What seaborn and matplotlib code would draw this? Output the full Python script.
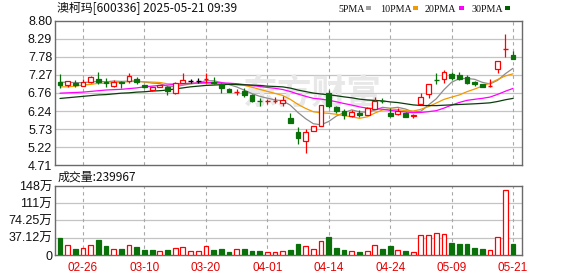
import numpy as np
import pandas as pd
import matplotlib
matplotlib.use("Agg")
import matplotlib.pyplot as plt
from matplotlib.patches import Rectangle
import seaborn as sns

# ---------------- data ----------------
dates = ["02-21", "02-24", "02-25", "02-26", "02-27", "02-28",
         "03-03", "03-04", "03-05", "03-06", "03-07", "03-10", "03-11", "03-12", "03-13", "03-14",
         "03-17", "03-18", "03-19", "03-20", "03-21", "03-24", "03-25", "03-26", "03-27", "03-28", "03-31",
         "04-01", "04-02", "04-03", "04-07", "04-08", "04-09", "04-10", "04-11", "04-14", "04-15", "04-16",
         "04-17", "04-18", "04-21", "04-22", "04-23", "04-24", "04-25", "04-28", "04-29", "04-30",
         "05-06", "05-07", "05-08", "05-09", "05-12", "05-13", "05-14", "05-15", "05-16", "05-19", "05-20", "05-21"]

opens = [7.06, 6.97, 7.03, 6.96, 7.08, 7.15, 7.08, 6.96, 7.06, 7.10,
         7.15, 6.97, 6.84, 6.93, 6.93, 6.76, 7.03, 7.10, 7.11, 7.14,
         7.08, 7.01, 6.87, 6.77, 6.81, 6.69, 6.52, 6.51, 6.53, 6.46,
         6.05, 5.64, 5.40, 5.67, 5.82, 6.75, 6.35, 6.24, 6.10, 6.20,
         6.14, 6.29, 6.54, 6.18, 6.16, 6.18, 6.10, 6.43, 6.72, 7.13,
         7.14, 7.29, 7.27, 7.20, 7.06, 7.00, 6.95, 7.43, 7.99, 7.83]
highs = [7.29, 7.10, 7.12, 7.14, 7.24, 7.34, 7.18, 7.12, 7.10, 7.31,
         7.20, 6.99, 6.93, 6.98, 6.95, 7.07, 7.31, 7.15, 7.17, 7.31,
         7.20, 7.03, 6.89, 6.87, 6.89, 6.73, 6.60, 6.59, 6.65, 6.67,
         6.20, 5.80, 5.72, 5.83, 6.41, 6.84, 6.39, 6.29, 6.27, 6.27,
         6.37, 6.63, 6.62, 6.32, 6.32, 6.22, 6.16, 6.75, 7.00, 7.31,
         7.41, 7.35, 7.35, 7.27, 7.10, 7.02, 7.14, 7.66, 8.43, 7.95]
lows = [6.90, 6.92, 6.93, 6.95, 7.03, 7.00, 6.93, 6.93, 6.89, 7.03,
        7.00, 6.90, 6.80, 6.93, 6.70, 6.74, 7.03, 7.03, 7.03, 7.05,
        7.02, 6.76, 6.78, 6.71, 6.63, 6.51, 6.39, 6.44, 6.46, 6.39,
        5.91, 5.31, 5.06, 5.67, 5.82, 6.32, 6.19, 6.03, 6.07, 6.08,
        6.13, 6.29, 6.46, 6.08, 6.13, 6.07, 6.04, 6.41, 6.60, 7.00,
        7.05, 7.12, 7.12, 7.01, 6.96, 6.93, 6.93, 7.33, 7.78, 7.71]
closes = [6.98, 7.10, 6.98, 7.08, 7.20, 7.06, 7.05, 7.08, 7.03, 7.24,
          7.06, 6.93, 6.92, 6.97, 6.82, 7.05, 7.12, 7.10, 7.11, 7.15,
          7.03, 6.89, 6.79, 6.78, 6.69, 6.54, 6.51, 6.52, 6.54, 6.56,
          5.91, 5.47, 5.64, 5.83, 6.41, 6.38, 6.24, 6.13, 6.22, 6.13,
          6.32, 6.54, 6.53, 6.10, 6.25, 6.08, 6.12, 6.63, 7.00, 7.12,
          7.36, 7.19, 7.14, 7.03, 7.00, 6.93, 6.96, 7.66, 8.00, 7.73]

ma5 = [7.06, 7.06, 7.05, 7.05, 7.068, 7.084, 7.074, 7.094, 7.084, 7.092,
       7.092, 7.068, 7.036, 7.024, 6.940, 6.938, 6.976, 7.012, 7.040, 7.106,
       7.102, 7.056, 6.994, 6.928, 6.836, 6.738, 6.662, 6.608, 6.560, 6.534,
       6.408, 6.200, 6.024, 5.882, 5.852, 5.946, 6.100, 6.198, 6.276, 6.220,
       6.208, 6.268, 6.348, 6.324, 6.348, 6.300, 6.216, 6.236, 6.416, 6.590,
       6.846, 7.060, 7.162, 7.168, 7.144, 7.058, 7.012, 7.116, 7.302, 7.456]
ma10 = [6.93, 6.93, 6.95, 6.98, 7.00, 7.03, 7.03, 7.05, 7.06, 7.080,
        7.088, 7.071, 7.065, 7.054, 7.016, 7.015, 7.022, 7.024, 7.032, 7.023,
        7.020, 7.016, 7.003, 6.984, 6.971, 6.920, 6.859, 6.801, 6.744, 6.685,
        6.573, 6.431, 6.316, 6.221, 6.193, 6.177, 6.150, 6.111, 6.079, 6.036,
        6.077, 6.184, 6.273, 6.300, 6.284, 6.254, 6.242, 6.292, 6.370, 6.469,
        6.573, 6.638, 6.699, 6.792, 6.867, 6.952, 7.036, 7.139, 7.239, 7.300]
ma20 = [6.75, 6.76, 6.77, 6.78, 6.80, 6.82, 6.84, 6.85, 6.86, 6.88,
        6.90, 6.93, 6.95, 6.97, 6.98, 7.00, 7.02, 7.03, 7.04, 7.052,
        7.054, 7.044, 7.034, 7.019, 6.994, 6.968, 6.941, 6.913, 6.888, 6.854,
        6.797, 6.724, 6.660, 6.603, 6.582, 6.549, 6.505, 6.456, 6.412, 6.361,
        6.325, 6.308, 6.295, 6.261, 6.239, 6.216, 6.196, 6.202, 6.225, 6.253,
        6.325, 6.411, 6.486, 6.546, 6.576, 6.603, 6.639, 6.716, 6.805, 6.885]
ma30 = [6.60, 6.62, 6.64, 6.66, 6.68, 6.70, 6.71, 6.73, 6.75, 6.76,
        6.78, 6.79, 6.81, 6.82, 6.84, 6.87, 6.90, 6.93, 6.95, 6.97,
        6.98, 6.99, 7.00, 7.00, 6.99, 6.98, 6.97, 6.95, 6.94, 6.929,
        6.894, 6.839, 6.795, 6.753, 6.727, 6.704, 6.677, 6.645, 6.618, 6.581,
        6.557, 6.544, 6.531, 6.502, 6.483, 6.450, 6.417, 6.401, 6.398, 6.397,
        6.408, 6.418, 6.429, 6.438, 6.448, 6.461, 6.476, 6.514, 6.563, 6.602]

volume_wan = [37.0, 21.8, 13.1, 15.9, 21.8, 32.6, 19.6, 13.1, 13.1, 21.8,
              17.4, 10.9, 10.9, 8.7, 10.9, 15.9, 17.4, 8.7, 8.7, 19.6,
              10.9, 13.1, 6.5, 13.1, 13.1, 8.7, 8.7, 6.5, 6.5, 8.7,
              10.9, 23.9, 19.6, 12.4, 30.5, 39.2, 14.6, 10.9, 8.7, 6.5,
              8.7, 21.8, 13.1, 19.6, 10.9, 8.7, 6.5, 43.5, 43.5, 47.2,
              45.7, 26.8, 23.9, 23.9, 15.2, 13.1, 10.9, 38.5, 138.6, 24.0]
volume_dir = list("grgrrggrgr" "gggrgrrrrr" "gggrgggrrr" "ggrrrgggrg" "rrggrgrrrr" "rgggggrrrg")

price_ticks = [4.71, 5.22, 5.73, 6.24, 6.76, 7.27, 7.78, 8.29, 8.80]
price_tick_labels = ["4.71", "5.22", "5.73", "6.24", "6.76", "7.27", "7.78", "8.29", "8.80"]
vol_ticks = [0, 37.12, 74.25, 111, 148]
vol_tick_labels = ["0", "37.12万", "74.25万", "111万", "148万"]
date_tick_labels = ["02-26", "03-10", "03-20", "04-01", "04-14", "04-24", "05-09", "05-21"]
ma_names = ["5PMA", "10PMA", "20PMA", "30PMA"]
title_text = "澳柯玛[600336] 2025-05-21 09:39"
vol_label_text = "成交量:239967"

# ---------------- style ----------------
sns.set_theme(style="white")
plt.rcParams['font.family'] = ['Liberation Sans', 'Noto Sans CJK SC', 'DejaVu Sans']

UP = '#ff0000'
DOWN = '#0a700a'
FLAT = '#000000'
MA_COLORS = ['#8c8c8c', '#f29a00', '#ff00ff', '#0b3d0b']
LEG_COLORS = ['#a0a0a0', '#f29a00', '#ff00ff', '#006000']
GRID = '#c4c4c4'
VGRID = '#a8a8a8'
SPINE = '#6a6a6a'

W, H = 578, 276
fig = plt.figure(figsize=(W / 100, H / 100), dpi=100)
fig.patch.set_facecolor('white')

def fx(px):
    return px / W

def fy(py):
    return 1 - py / H

L, R = 55, 522
ax = fig.add_axes([fx(L), fy(165), fx(R) - fx(L), fy(21) - fy(165)])
axv = fig.add_axes([fx(L), fy(255), fx(R) - fx(L), fy(186) - fy(255)])

n = len(dates)
idx = np.arange(n)
df = pd.DataFrame({"i": idx, "open": opens, "high": highs, "low": lows, "close": closes,
                   "ma5": ma5, "ma10": ma10, "ma20": ma20, "ma30": ma30,
                   "vol": volume_wan, "dir": volume_dir})

xlim = (-0.65, n - 1 + 1.17)
tick_pos = [dates.index(d) for d in date_tick_labels]

for a in (ax, axv):
    a.set_xlim(*xlim)
    a.set_facecolor('white')
    for s in a.spines.values():
        s.set_color(SPINE)
        s.set_linewidth(1.0)
    for tp in tick_pos:
        a.axvline(tp, color=VGRID, lw=0.8, ls=(0, (3, 3)), zorder=0.6)
    a.tick_params(axis='both', length=0, pad=2)

# price axis grid / ticks
ax.set_ylim(price_ticks[0], price_ticks[-1])
ax.set_yticks(price_ticks)
ax.set_yticklabels(price_tick_labels, fontsize=9, color='#111111')
for t in price_ticks[1:-1]:
    ax.axhline(t, color=GRID, lw=0.9, zorder=0.5)
ax.set_xticks([])

# watermark
ax.text(fx(312), fy(93), "东方财富", transform=fig.transFigure, fontsize=25,
        fontweight='bold', color='#e8e8e8', ha='center', va='center', zorder=0.7,
        family=['Noto Sans CJK SC', 'DejaVu Sans'])

# MA lines via seaborn
for col, c in zip(["ma5", "ma10", "ma20", "ma30"], MA_COLORS):
    sns.lineplot(data=df, x="i", y=col, ax=ax, color=c, lw=0.9, legend=False, zorder=1.5)
ax.set_xlabel("")
ax.set_ylabel("")

# candles
bw = 0.62
for i, o, h, l, c in zip(idx, opens, highs, lows, closes):
    if c > o:
        col = UP
    elif c < o:
        col = DOWN
    else:
        col = FLAT
    ax.vlines(i, l, h, color=col, lw=0.9, zorder=2)
    if abs(c - o) <= 0.011:
        ax.hlines((o + c) / 2, i - bw / 2, i + bw / 2, color=col, lw=1.0, zorder=3)
    elif c > o:
        ax.bar(i, c - o, bottom=o, width=bw, facecolor='white', edgecolor=UP, lw=0.9, zorder=3)
    else:
        ax.bar(i, o - c, bottom=c, width=bw, facecolor=DOWN, edgecolor=DOWN, lw=0.9, zorder=3)

# volume
axv.set_ylim(0, vol_ticks[-1])
axv.set_yticks(vol_ticks)
axv.set_yticklabels(vol_tick_labels, fontsize=9, color='#111111')
for t in vol_ticks[1:-1]:
    axv.axhline(t, color=GRID, lw=0.9, zorder=0.5)
for i, v, d in zip(idx, volume_wan, volume_dir):
    if d == 'r':
        axv.bar(i, v, width=bw, facecolor='white', edgecolor=UP, lw=0.9, zorder=3)
    else:
        axv.bar(i, v, width=bw, facecolor=DOWN, edgecolor=DOWN, lw=0.9, zorder=3)
axv.set_xticks(tick_pos)
axv.set_xticklabels(date_tick_labels, fontsize=8.5, color='#e60000')
axv.tick_params(axis='x', pad=5)

# title and labels
cjk = ['Noto Sans CJK SC', 'DejaVu Sans']
fig.text(fx(57), fy(9), title_text, fontsize=8.6, color='#111111', ha='left', va='center', family=cjk)
fig.text(fx(58), fy(177), vol_label_text, fontsize=8.6, color='#111111', ha='left', va='center', family=cjk)

# legend
leg_text_x = [338, 380, 425, 472]
leg_sq_x = [366, 413, 459, 505]
for name, tx, sx, c in zip(ma_names, leg_text_x, leg_sq_x, LEG_COLORS):
    fig.text(fx(tx), fy(9), name, fontsize=7.2, color='#111111', ha='left', va='center',
             family=['Liberation Serif', 'DejaVu Serif'])
    fig.add_artist(Rectangle((fx(sx), fy(10)), 5 / W, 4 / H, transform=fig.transFigure,
                             facecolor=c, edgecolor='none'))

fig.savefig("out.png", dpi=100, facecolor='white')
